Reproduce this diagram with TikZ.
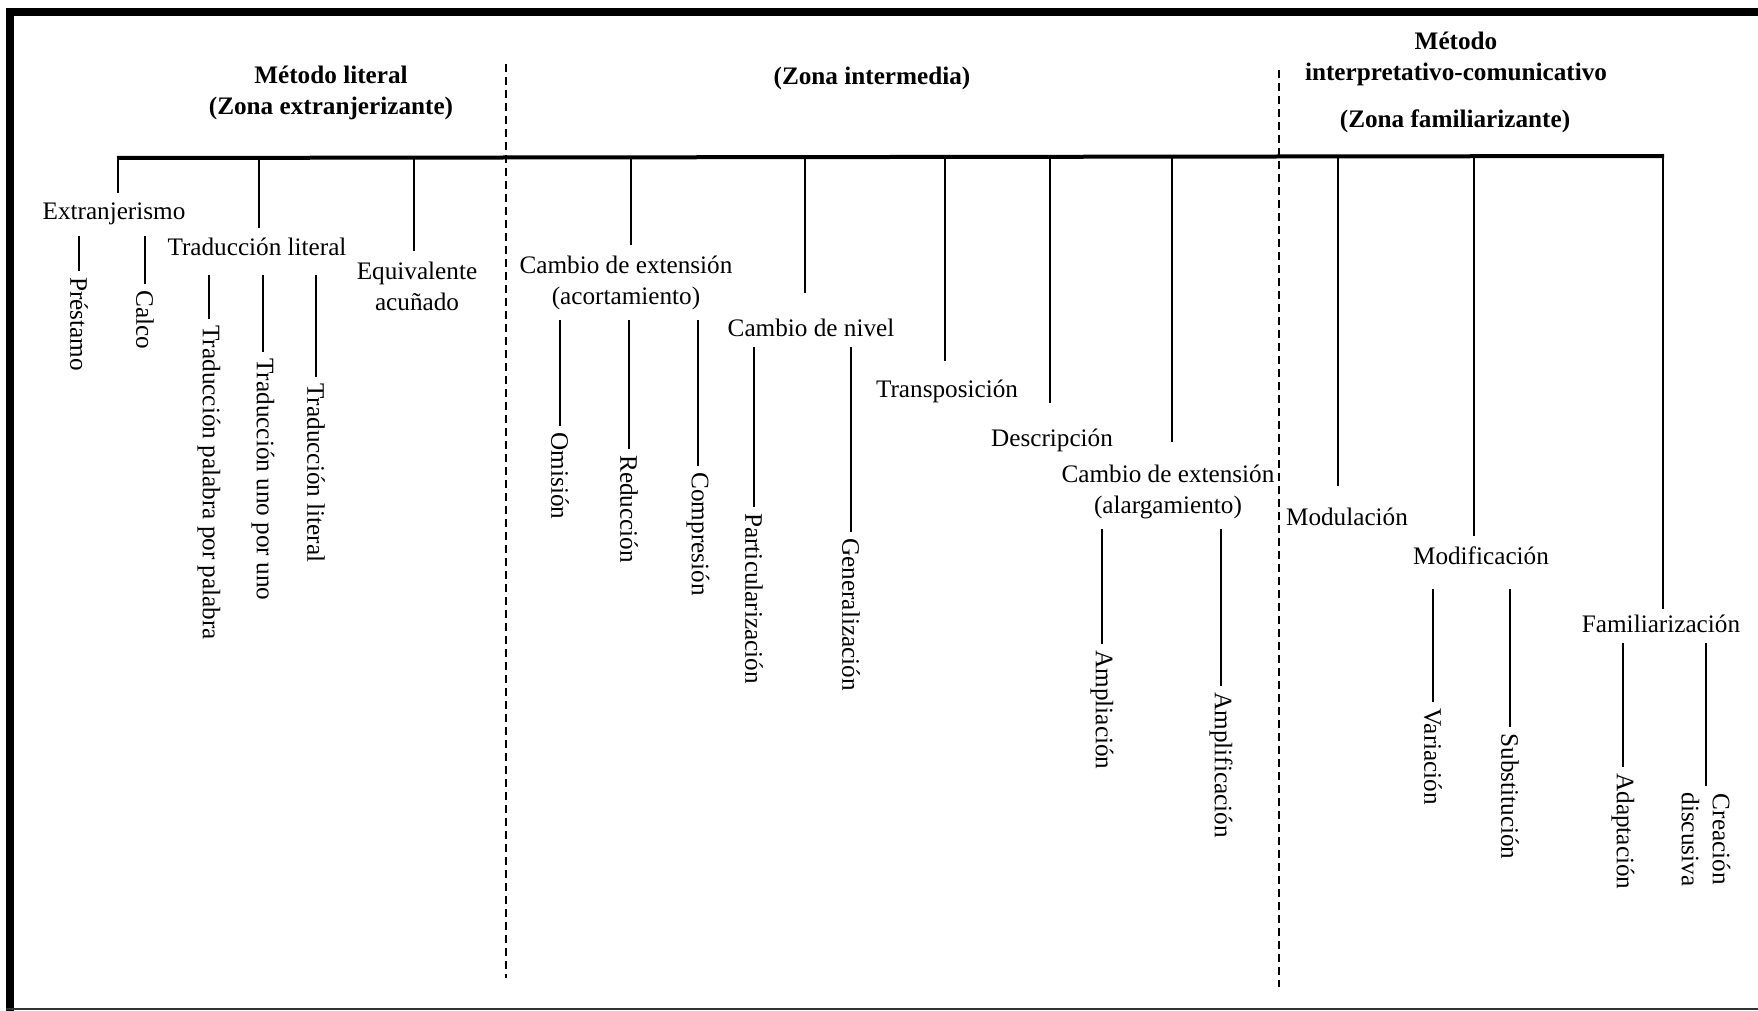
\documentclass[tikz,border=0pt]{standalone}
\usepackage{fontspec}
\setmainfont{Liberation Serif}
\usepackage{tikz}

\newcommand{\txtsize}{\fontsize{12.6}{15.5}\selectfont}

\tikzset{
  lbl/.style={inner sep=5pt, align=center, anchor=base},
  leaf/.style={inner sep=3pt, rotate=-90, anchor=west, align=center},
  head/.style={font=\txtsize\bfseries, align=center, anchor=base, inner sep=0pt},
  tick/.style={line width=0.8pt},
  zone/.style={line width=0.6pt, dash pattern=on 4pt off 2.5pt},
}

\begin{document}
\begin{tikzpicture}[x=0.5pt, y=-0.5pt, font=\txtsize]

  \useasboundingbox (0,0) rectangle (1758,1011);

  % frame
  \draw[line width=4pt] (10,1011) -- (10,12) -- (1758,12);
  \draw[line width=1pt, black!80] (6,1009) -- (1758,1009);

  % headings (base = last line)
  \node[head] (lit) at (331,115) {Método literal\\(Zona extranjerizante)};
  \node[head] (mid) at (872,85) {(Zona intermedia)};
  \node[head] (com) at (1456,81) {Método\\interpretativo-comunicativo};
  \node[head] (fam) at (1455,128) {(Zona familiarizante)};

  % zone limits
  \coordinate (z1t) at (506,64);  \coordinate (z1b) at (506,978);
  \coordinate (z2t) at (1279,70); \coordinate (z2b) at (1279,987);
  \draw[zone] (z1t) -- (z1b);
  \draw[zone] (z2t) -- (z2b);

  % axis
  \coordinate (axL) at (117,158);
  \coordinate (axR) at (1664,156);
  \draw[line width=2pt] (axL) -- (axR);

  \coordinate (tExt) at (118,158);
  \coordinate (tTrl) at (259,158);
  \coordinate (tEqu) at (414,158);
  \coordinate (tAco) at (631,157);
  \coordinate (tNiv) at (805,157);
  \coordinate (tTra) at (945,157);
  \coordinate (tDes) at (1050,157);
  \coordinate (tAla) at (1172,157);
  \coordinate (tMdl) at (1338,156);
  \coordinate (tMdf) at (1474,156);
  \coordinate (tFml) at (1663,156);

  % first level
  \node[lbl] (ext) at (114,220) {Extranjerismo};
  \node[lbl] (trl) at (257,256) {Traducción literal};
  \node[lbl] (equ) at (417,310) {Equivalente\\acuñado};
  \node[lbl] (aco) at (626,304) {Cambio de extensión\\(acortamiento)};
  \node[lbl] (niv) at (811,336) {Cambio de nivel};
  \node[lbl] (tra) at (947,397) {Transposición};
  \node[lbl] (des) at (1052,446) {Descripción};
  \node[lbl] (ala) at (1168,513) {Cambio de extensión\\(alargamiento)};
  \node[lbl] (mdl) at (1347,525) {Modulación};
  \node[lbl] (mdf) at (1481,564) {Modificación};
  \node[lbl] (fml) at (1661,632) {Familiarización};

  \draw[tick] (tExt) -- (tExt |- ext.north);
  \draw[tick] (tTrl) -- (tTrl |- trl.north);
  \draw[tick] (tEqu) -- (tEqu |- equ.north);
  \draw[tick] (tAco) -- (tAco |- aco.north);
  \draw[tick, shorten >=7.5pt] (tNiv) -- (tNiv |- niv.north);
  \draw[tick, shorten >=4pt] (tTra) -- (tTra |- tra.north);
  \draw[tick, shorten >=7.5pt] (tDes) -- (tDes |- des.north);
  \draw[tick, shorten >=6pt] (tAla) -- (tAla |- ala.north);
  \draw[tick, shorten >=5.5pt] (tMdl) -- (tMdl |- mdl.north);
  \draw[tick] (tMdf) -- (tMdf |- mdf.north);
  \draw[tick, shorten >=-2.5pt] (tFml) -- (tFml |- fml.north);

  % second level
  \node[leaf] (pre) at (79,271) {Préstamo};
  \node[leaf] (cal) at (145,284) {Calco};
  \node[leaf] (tpp) at (209,319) {Traducción palabra por palabra};
  \node[leaf] (tuu) at (263,352) {Traducción uno por uno};
  \node[leaf] (tlt) at (316,377) {Traducción literal};
  \node[leaf] (omi) at (560,426) {Omisión};
  \node[leaf] (red) at (629,449) {Reducción};
  \node[leaf] (cmp) at (698,466) {Compresión};
  \node[leaf] (par) at (754,507) {Particularización};
  \node[leaf] (gen) at (851,532) {Generalización};
  \node[leaf] (amp) at (1102,644) {Ampliación};
  \node[leaf] (amf) at (1221,686) {Amplificación};
  \node[leaf] (var) at (1433,702) {Variación};
  \node[leaf] (sub) at (1510,727) {Substitución};
  \node[leaf] (ada) at (1623,767) {Adaptación};
  \node[leaf] (cre) at (1706,786) {Creación\\discusiva};

  \draw[tick] (pre.west) -- (pre.west |- ext.south);
  \draw[tick] (cal.west) -- (cal.west |- ext.south);
  \draw[tick, shorten >=4pt] (tpp.west) -- (tpp.west |- trl.south);
  \draw[tick, shorten >=4pt] (tuu.west) -- (tuu.west |- trl.south);
  \draw[tick, shorten >=4pt] (tlt.west) -- (tlt.west |- trl.south);
  \draw[tick] (omi.west) -- (omi.west |- aco.south);
  \draw[tick] (red.west) -- (red.west |- aco.south);
  \draw[tick] (cmp.west) -- (cmp.west |- aco.south);
  \draw[tick] (par.west) -- (par.west |- niv.south);
  \draw[tick] (gen.west) -- (gen.west |- niv.south);
  \draw[tick] (amp.west) -- (amp.west |- ala.south);
  \draw[tick] (amf.west) -- (amf.west |- ala.south);
  \draw[tick, shorten >=7pt] (var.west) -- (var.west |- mdf.south);
  \draw[tick, shorten >=7pt] (sub.west) -- (sub.west |- mdf.south);
  \draw[tick] (ada.west) -- (ada.west |- fml.south);
  \draw[tick] (cre.west) -- (cre.west |- fml.south);

\end{tikzpicture}
\end{document}
